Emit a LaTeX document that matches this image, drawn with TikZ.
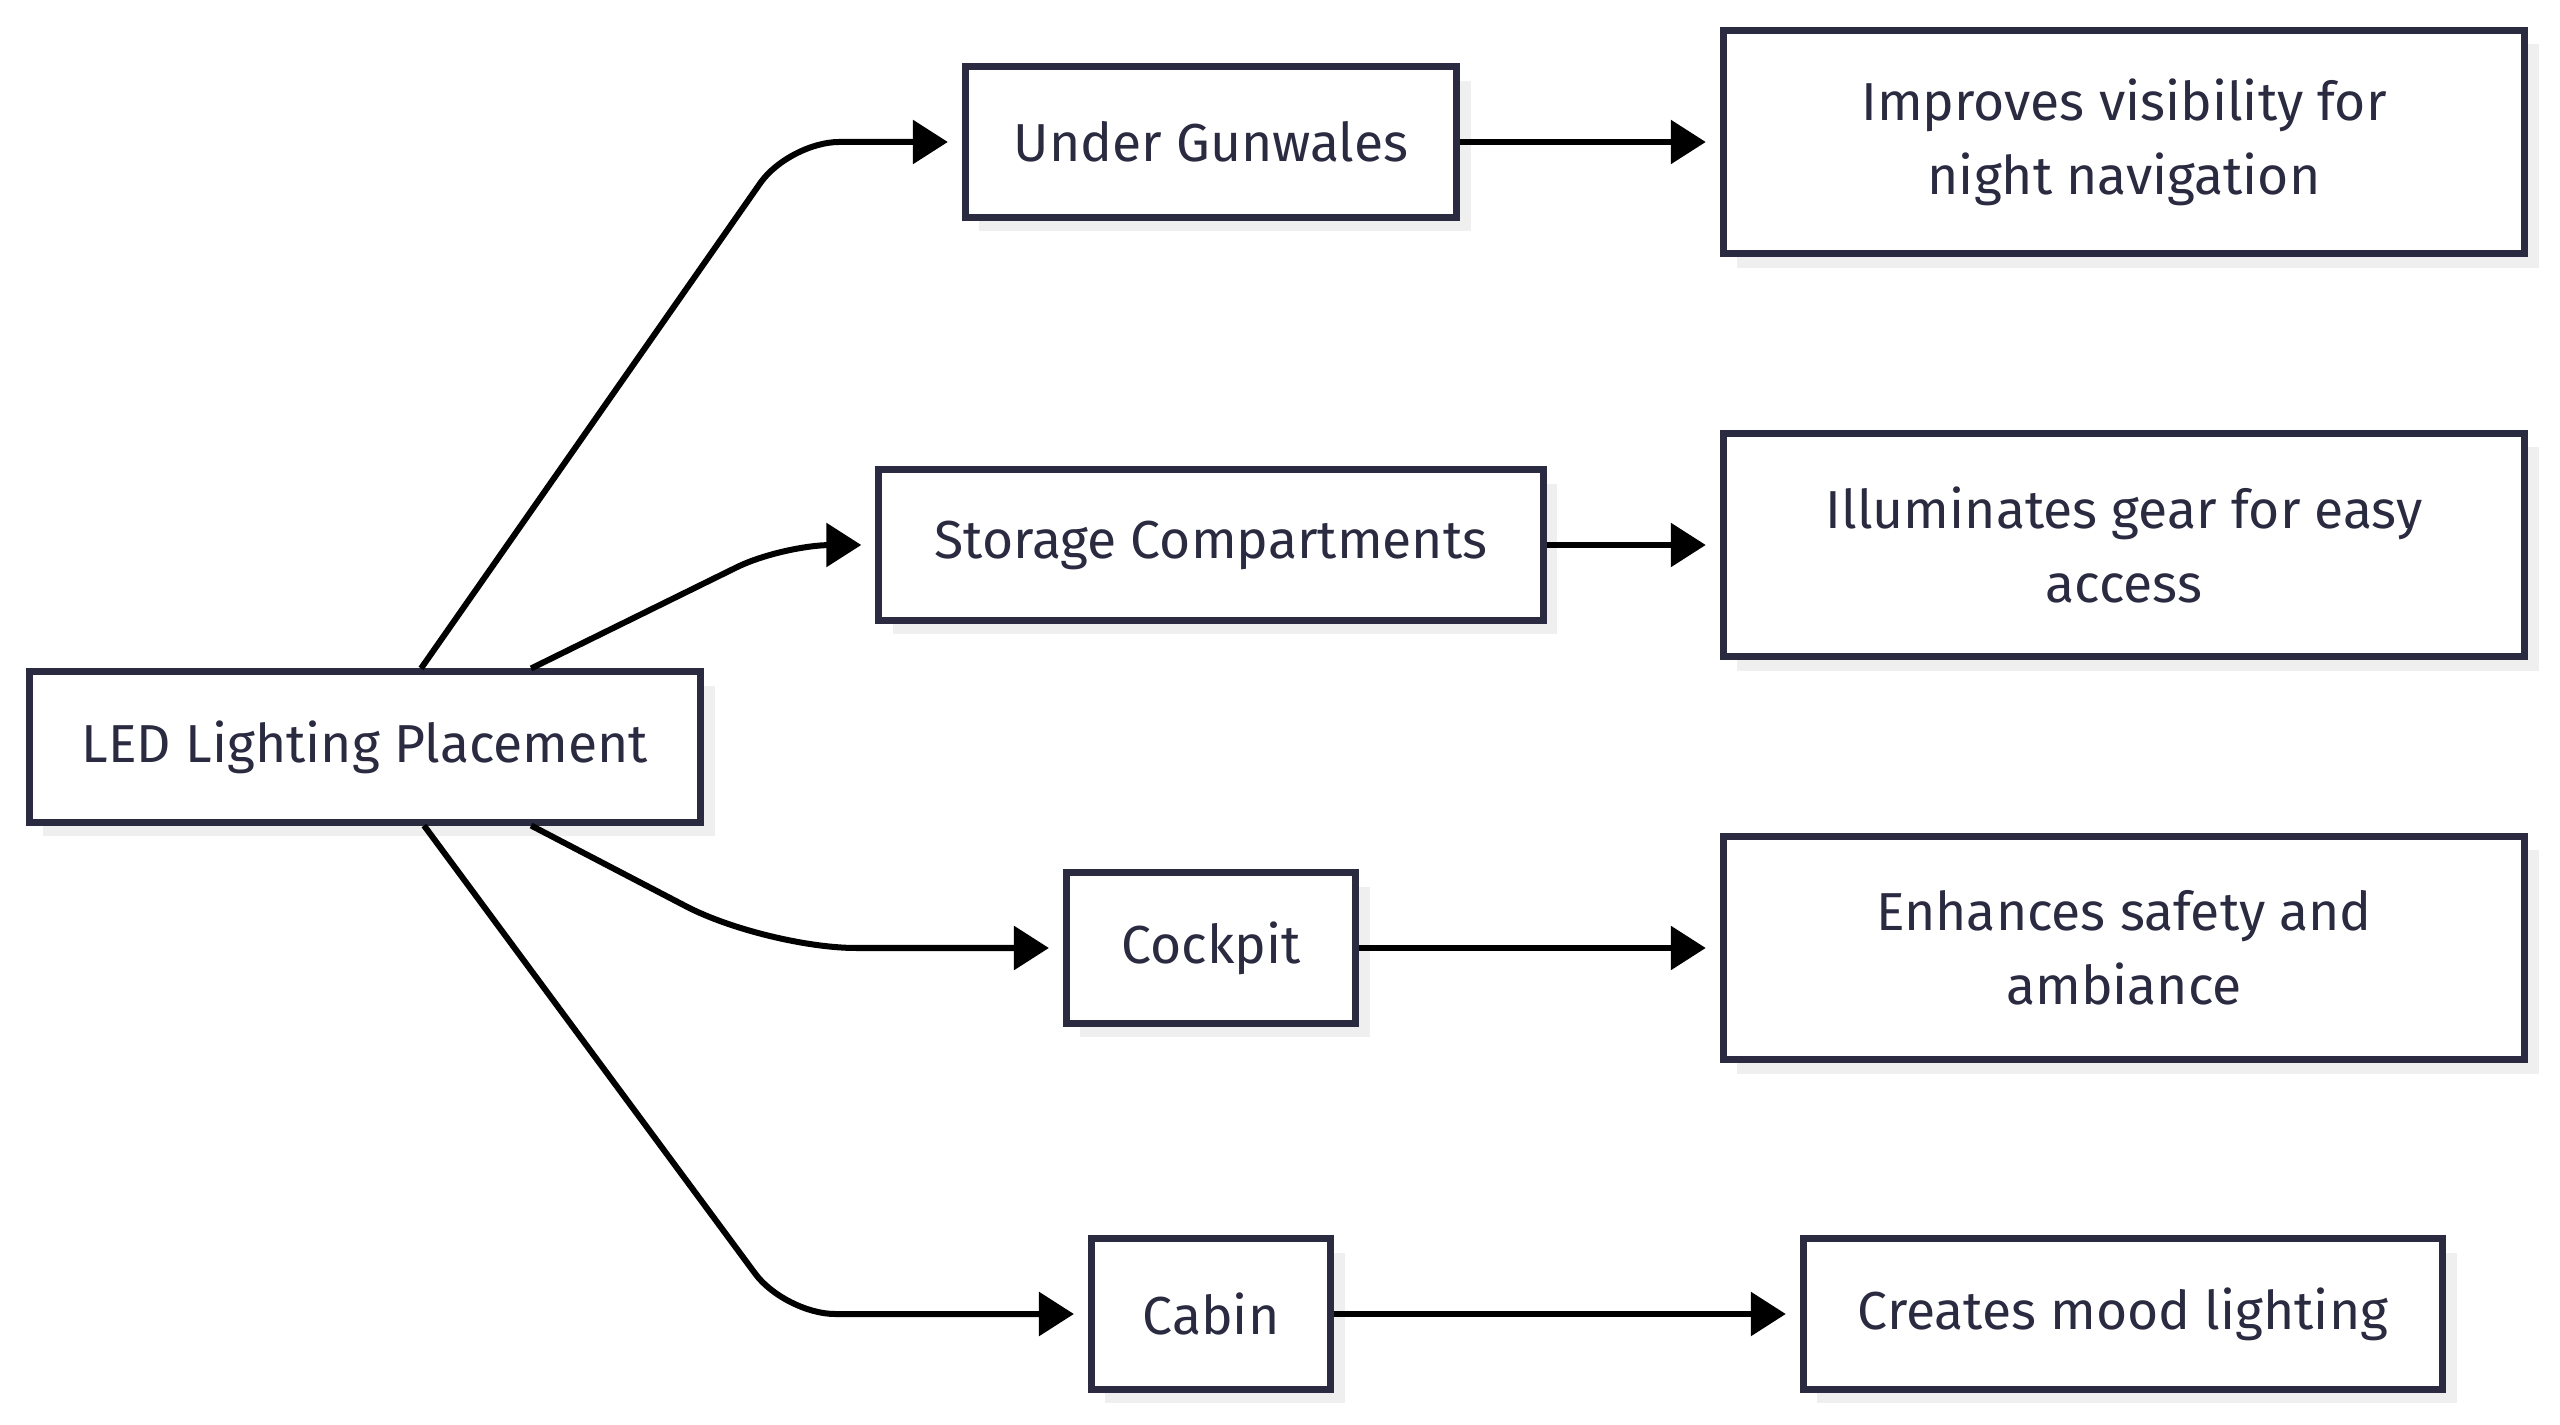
\documentclass[tikz,border=0pt]{standalone}
\usepackage{fontspec}
\setmainfont{Fira Sans}
\usetikzlibrary{arrows.meta,shadows}
\definecolor{midnight}{RGB}{42, 42, 64}
\definecolor{smoke}{RGB}{239, 239, 239}

\begin{document}
\begin{tikzpicture}[x=0.01cm, y=-0.01cm,
        box/.style={draw=midnight, line width=0.07cm, fill=white, text=midnight, align=center,
                    font=\fontsize{15.2}{21}\selectfont, minimum height=1.50cm,
                    drop shadow={shadow xshift=0.14cm, shadow yshift=-0.14cm, fill=smoke, opacity=1}},
        link/.style={draw=black, line width=0.06cm, -{Triangle[length=0.35cm, width=0.43cm]},
                    shorten >=0.14cm, rounded corners=0.5cm}]
            \useasboundingbox (0,0) rectangle (2560,1425);

            % root and placements
            \node[box, minimum width=6.71cm]                        (led)        at ( 365,  747) {LED Lighting Placement};
            \node[box, minimum width=4.91cm]                        (gunwales)   at (1211,  142) {Under Gunwales};
            \node[box, minimum width=6.64cm]                        (storage)    at (1211,  545) {Storage Compartments};
            \node[box, minimum width=2.89cm]                        (cockpit)    at (1211,  948) {Cockpit};
            \node[box, minimum width=2.39cm]                        (cabin)      at (1211, 1314) {Cabin};

            % benefits
            \node[box, minimum width=8.01cm, minimum height=2.23cm] (visibility) at (2124,  142) {Improves visibility for\\night navigation};
            \node[box, minimum width=8.01cm, minimum height=2.23cm] (gear)       at (2124,  545) {Illuminates gear for easy\\access};
            \node[box, minimum width=8.01cm, minimum height=2.23cm] (safety)     at (2124,  948) {Enhances safety and\\ambiance};
            \node[box, minimum width=6.39cm]                        (mood)       at (2123, 1314) {Creates mood lighting};

            % connectors
            \draw[link] ([xshift=0.56cm]led.north) -- (789,  142) -- (gunwales.west);
            \draw[link] ([xshift=1.66cm]led.north) -- (782,  545) -- (storage.west);
            \draw[link, rounded corners=0.9cm] ([xshift=1.66cm]led.south) -- (766,  948) -- (cockpit.west);
            \draw[link] ([xshift=0.59cm]led.south) -- (785, 1314) -- (cabin.west);

            \draw[link] (gunwales.east) -- (visibility.west);
            \draw[link] (storage.east)  -- (gear.west);
            \draw[link] (cockpit.east)  -- (safety.west);
            \draw[link] (cabin.east)    -- (mood.west);
        \end{tikzpicture}
\end{document}
